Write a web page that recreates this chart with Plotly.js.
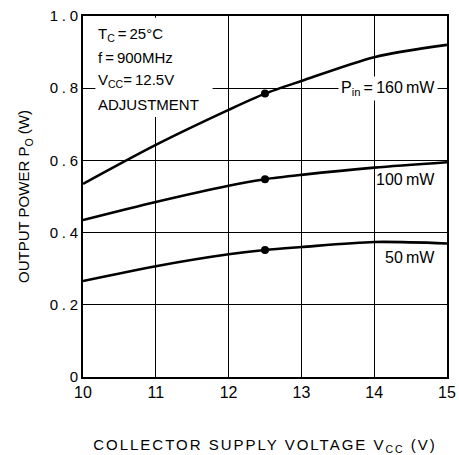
<!DOCTYPE html>
<html><head><meta charset="utf-8">
<script src="https://cdn.plot.ly/plotly-3.0.1.min.js"></script>
<style>body{margin:0;background:#fff}#chart{width:459px;height:455px}
.xtitle{letter-spacing:2px}
</style>
</head><body><div id="chart"></div>
<script>
const vcc = [10, 11, 12, 12.5, 13, 14, 15];
const p160 = [0.535, 0.643, 0.74, 0.785, 0.82, 0.886, 0.92];
const p100 = [0.435, 0.485, 0.53, 0.548, 0.56, 0.58, 0.595];
const p50  = [0.266, 0.307, 0.34, 0.352, 0.36, 0.374, 0.37];
const dotX = [12.5, 12.5, 12.5];
const dotY = [0.785, 0.548, 0.352];
const xTicks = [10, 11, 12, 13, 14, 15];
const yTicks = [0, 0.2, 0.4, 0.6, 0.8, 1.0];
const yTickText = ['0', '0\u2005.\u20052', '0\u2005.\u20054', '0\u2005.\u20056', '0\u2005.\u20058', '1\u2005.\u20050'];
const seriesLabels = ['P<sub>in</sub>\u2009=\u2009160\u2009mW', '100\u2009mW', '50\u2009mW'];
const labelY = [0.80, 0.546, 0.33];
const condLines = ['T<sub>C</sub>\u2009=\u200925°C', 'f\u2009=\u2009900MHz', 'V<sub>CC</sub>=\u200912.5V', 'ADJUSTMENT'];
const condY = [0.948, 0.884, 0.820, 0.756];

const font = 'Liberation Sans, Arial, sans-serif';
const line = {color: '#000', width: 2.6, shape: 'spline', smoothing: 0.8};
const traces = [p160, p100, p50].map(y => ({x: vcc, y: y, mode: 'lines', line: line, hoverinfo: 'skip'}));
traces.push({x: dotX, y: dotY, mode: 'markers', marker: {color: '#000', size: 8}});

const annotations = condLines.map((t, i) => ({
  xref: 'paper', yref: 'paper', x: 0.035, y: condY[i], xanchor: 'left', yanchor: 'middle',
  text: t, showarrow: false, font: {size: 15, family: font}
}));
seriesLabels.forEach((t, i) => annotations.push({
  x: 14.88, y: labelY[i], xanchor: 'right', yanchor: 'middle', text: t, showarrow: false,
  bgcolor: i === 0 ? '#fff' : 'rgba(0,0,0,0)', borderpad: 2, font: {size: 16, family: font}
}));

const layout = {
  width: 459, height: 455,
  margin: {l: 83, r: 12, t: 16, b: 78},
  showlegend: false,
  paper_bgcolor: '#fff', plot_bgcolor: '#fff',
  font: {family: font, color: '#000', size: 14},
  xaxis: {range: [10, 15], tickvals: xTicks, ticktext: xTicks.map(String),
    showgrid: true, gridcolor: '#000', gridwidth: 1, zeroline: false,
    showline: true, linecolor: '#000', linewidth: 2, mirror: true, ticks: '',
    tickfont: {size: 16, family: font},
    title: {text: 'COLLECTOR SUPPLY VOLTAGE V<sub>CC</sub> (V)', font: {size: 15, family: font}, standoff: 40}},
  yaxis: {range: [0, 1.0], tickvals: yTicks, ticktext: yTickText,
    showgrid: true, gridcolor: '#000', gridwidth: 1, zeroline: false,
    showline: true, linecolor: '#000', linewidth: 2, mirror: true, ticks: '',
    tickfont: {size: 15, family: font},
    title: {text: 'OUTPUT POWER P<sub>O</sub> (W)', font: {size: 15, family: font}, standoff: 16}},
  shapes: [
    {type: 'rect', xref: 'x', yref: 'y', x0: 10.17, x1: 11.78, y0: 0.72, y1: 0.995,
     fillcolor: '#fff', line: {width: 0}, layer: 'between'}
  ],
  annotations: annotations
};
Plotly.newPlot('chart', traces, layout, {displayModeBar: false, staticPlot: true});
</script></body></html>
